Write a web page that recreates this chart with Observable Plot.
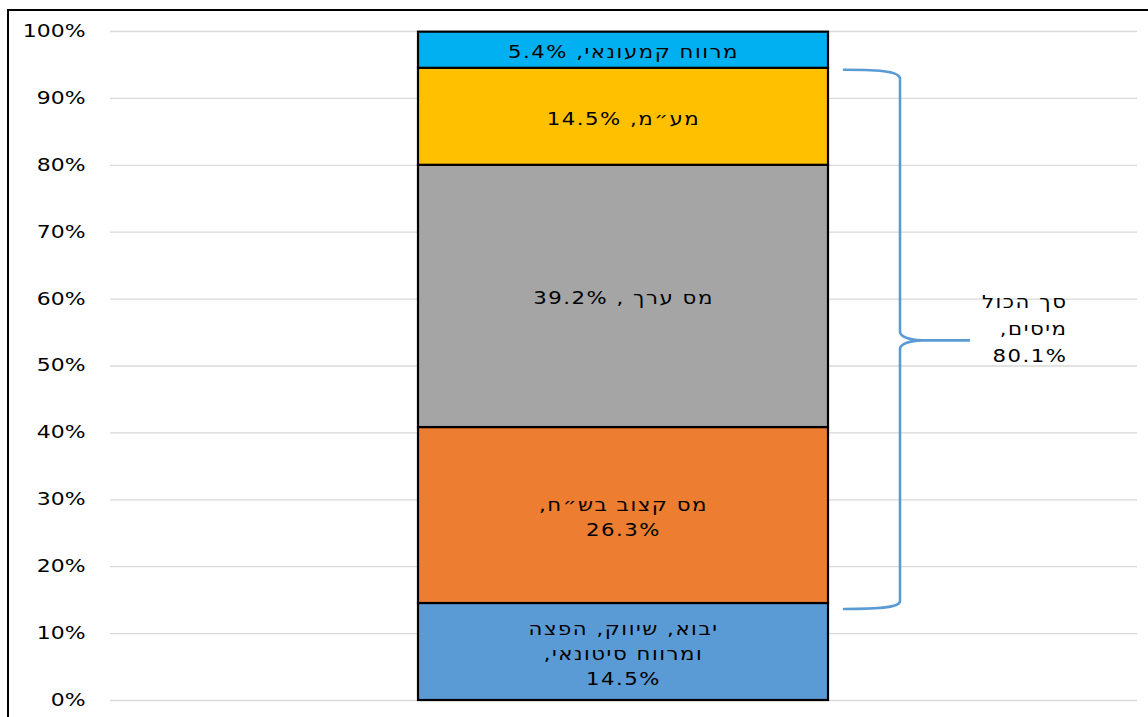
<!DOCTYPE html>
<html>
<head>
<meta charset="utf-8">
<script src="https://cdn.jsdelivr.net/npm/d3@7"></script>
<script src="https://cdn.jsdelivr.net/npm/@observablehq/plot@0.6"></script>
<style>
  html, body { margin: 0; padding: 0; background: #fff; overflow: hidden; }
  #wrap { position: relative; width: 1148px; height: 717px; }
  #frame { position: absolute; left: 7px; top: 9px; width: 1300px; height: 900px;
           border-left: 2.5px solid #000; border-top: 2.5px solid #000; pointer-events: none; }
</style>
</head>
<body>
<div id="wrap"><div id="chart"></div><div id="frame"></div></div>
<script>
// ---- data ----
const category = "מחיר לצרכן";
const segmentNames = [
  "יבוא, שיווק, הפצה\nומרווח סיטונאי,\n",
  "מס קצוב בש״ח,\n",
  "מס ערך , ",
  "מע״מ, ",
  "מרווח קמעונאי, "
];
const segmentValues = [14.5, 26.3, 39.2, 14.5, 5.4];
const segmentColors = ["#5B9BD5", "#ED7D31", "#A5A5A5", "#FFC000", "#00B0F0"];
const yTicks = [0, 10, 20, 30, 40, 50, 60, 70, 80, 90, 100];
const braceLabel = "סך הכול\nמיסים,\n80.1%";
const braceFrom = 14.5;   // start of taxes
const braceTo = 94.5;     // end of taxes

const segments = segmentNames.map((name, i) => ({
  category,
  value: segmentValues[i],
  color: segmentColors[i],
  label: name + segmentValues[i].toFixed(1) + "%"
}));

function brace(index, scales, values, dimensions) {
  const x = scales.x, y = scales.y;
  const right = x(category) + x.bandwidth();
  const x1 = right + 16, x2 = right + 72, xt = right + 141;
  const yt = y(braceTo) + 2, yb = y(braceFrom) + 6, ym = (yt + yb) / 2 + 1;
  const d = [
    `M${x1},${yt}`,
    `C${x1 + 40},${yt} ${x2},${yt + 2} ${x2},${yt + 9}`,
    `L${x2},${ym - 8}`,
    `Q${x2 + 2},${ym - 1} ${x2 + 22},${ym}`,
    `L${xt},${ym}`,
    `M${x2 + 22},${ym}`,
    `Q${x2 + 2},${ym + 1} ${x2},${ym + 8}`,
    `L${x2},${yb - 8}`,
    `C${x2},${yb - 2} ${x1 + 40},${yb} ${x1},${yb}`
  ].join(" ");
  const g = d3.create("svg:g").attr("aria-label", "brace");
  g.append("path").attr("d", d).attr("fill", "none")
    .attr("stroke", "#5B9BD5").attr("stroke-width", 2.6)
    .attr("stroke-linejoin", "round").attr("stroke-linecap", "round");
  return g.node();
}

const plot = Plot.plot({
  width: 1148,
  height: 717,
  marginTop: 31,
  marginBottom: 17,
  marginLeft: 110,
  marginRight: 11,
  style: { fontFamily: "DejaVu Sans", fontSize: "17px", color: "#000", background: "transparent" },
  x: { domain: [category], padding: 0.4286, axis: null, label: null },
  y: { domain: [0, 100], axis: null, label: null },
  marks: [
    Plot.gridY(yTicks, { stroke: "#d9d9d9", strokeOpacity: 1, strokeWidth: 1.3 }),
    Plot.axisY(yTicks, {
      tickSize: 0, tickPadding: 25, tickFormat: d => d + "%", label: null,
      fontSize: 17, fill: "#000"
    }),
    Plot.barY(segments, {
      x: "category", y: "value", fill: "color",
      stroke: "#000", strokeWidth: 2.2
    }),
    Plot.text(segments, Plot.stackY({
      x: "category", y: "value", text: "label",
      fontSize: 18, fill: "#000", lineHeight: 1.38, textAnchor: "middle"
    })),
    brace,
    Plot.text([braceLabel], {
      x: () => category, y: () => (braceFrom + braceTo) / 2, text: d => d,
      dx: 444, dy: -10, fontSize: 18, lineHeight: 1.5, textAnchor: "start", fill: "#000"
    })
  ]
});

function widen(t, s) {
  const tr = t.getAttribute("transform") || "";
  t.setAttribute("transform", tr + ` scale(${s},1)`);
}
plot.querySelectorAll('g[aria-label="text"] text').forEach(t => {
  t.setAttribute("direction", "rtl");
  t.style.letterSpacing = "1.3px";
  widen(t, 1.18);
});
plot.querySelectorAll('g[aria-label="y-axis tick label"] text').forEach(t => {
  widen(t, 1.29);
});
document.getElementById("chart").appendChild(plot);
</script>
</body>
</html>
